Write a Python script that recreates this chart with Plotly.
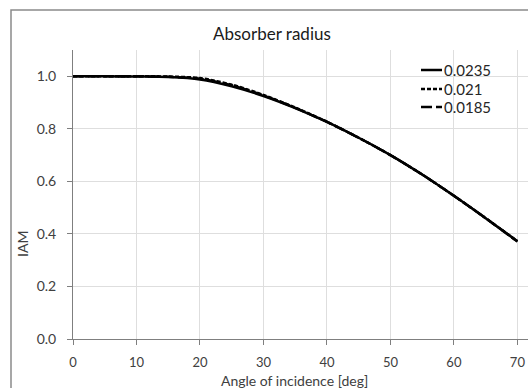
import plotly.graph_objects as go

# ---- data ----
angle = [0, 5, 10, 15, 20, 25, 30, 35, 40, 45, 50, 55, 60, 65, 70]
iam_0235 = [1.000, 1.000, 0.999, 0.997, 0.988, 0.962, 0.925, 0.879, 0.826, 0.766, 0.700, 0.626, 0.545, 0.460, 0.372]
iam_021 = [1.000, 1.000, 1.000, 0.999, 0.993, 0.968, 0.929, 0.881, 0.827, 0.766, 0.700, 0.626, 0.545, 0.460, 0.372]
iam_0185 = [1.000, 1.000, 1.000, 0.998, 0.991, 0.966, 0.927, 0.880, 0.826, 0.766, 0.700, 0.626, 0.545, 0.460, 0.371]
series_names = ["0.0235", "0.021", "0.0185"]
series_values = [iam_0235, iam_021, iam_0185]
x_ticks = [0, 10, 20, 30, 40, 50, 60, 70]
y_ticks = [0.0, 0.2, 0.4, 0.6, 0.8, 1.0]

dashes = ["solid", "4px,2px", "11px,4px"]

W, H = 528, 388
ML, MT, MR, MB = 73, 50, 0, 49
PW = W - ML - MR
PH = H - MT - MB

def px(xp):
    return (xp - ML) / PW

def py(yp):
    return (H - MB - yp) / PH

FONT = "Lato"

fig = go.Figure()
for name, vals, d in zip(series_names, series_values, dashes):
    fig.add_trace(go.Scatter(
        x=angle, y=vals, mode="lines", name=name,
        line=dict(color="#000000", width=2.5, dash=d, shape="spline", smoothing=0.8),
        showlegend=False,
    ))

# manual legend
leg_y = [70, 89, 107]
for name, d, ly in zip(series_names, dashes, leg_y):
    fig.add_shape(type="line", xref="paper", yref="paper",
                  x0=px(421), x1=px(442), y0=py(ly), y1=py(ly),
                  line=dict(color="#000000", width=2.5, dash=d))
    fig.add_annotation(text=name, xref="paper", yref="paper", x=px(442), y=py(ly),
                       xanchor="left", yanchor="middle", showarrow=False,
                       font=dict(family=FONT, size=15, color="#262626"))

# outer chart border
fig.add_shape(type="rect", xref="paper", yref="paper",
              x0=px(11), x1=px(540), y0=py(10), y1=py(400),
              line=dict(color="#8a8a8a", width=1.5), layer="below")

# title
fig.add_annotation(text="Absorber radius", xref="paper", yref="paper",
                   x=px(272), y=py(33), xanchor="center", yanchor="middle",
                   showarrow=False, font=dict(family=FONT, size=17, color="#1a1a1a"))
# axis titles
fig.add_annotation(text="Angle of incidence [deg]", xref="paper", yref="paper",
                   x=px(294), y=py(380), xanchor="center", yanchor="middle",
                   showarrow=False, font=dict(family=FONT, size=14, color="#404040"))
fig.add_annotation(text="IAM", xref="paper", yref="paper",
                   x=px(22), y=py(244), xanchor="center", yanchor="middle", textangle=-90,
                   showarrow=False, font=dict(family=FONT, size=14, color="#404040"))

axis_common = dict(
    showgrid=True, gridcolor="#dedede", gridwidth=1,
    showline=True, linecolor="#7f7f7f", linewidth=1,
    ticks="outside", ticklen=5, tickcolor="#7f7f7f",
    zeroline=False, fixedrange=True,
)

fig.update_xaxes(range=[0, 70 * PW / (517.7 - 73.3)], tickvals=x_ticks,
                 ticktext=[str(v) for v in x_ticks], ticklabelstandoff=6,
                 tickfont=dict(family=FONT, size=13, color="#404040"), **axis_common)
fig.update_yaxes(range=[0, 1.1], tickvals=y_ticks,
                 ticktext=[f"{v:.1f}" for v in y_ticks], ticklabelstandoff=8,
                 tickfont=dict(family=FONT, size=14, color="#404040"), **axis_common)

fig.update_layout(
    width=W, height=H,
    margin=dict(l=ML, r=MR, t=MT, b=MB, pad=0),
    paper_bgcolor="white", plot_bgcolor="white",
    font=dict(family=FONT),
    showlegend=False,
)

fig.write_html("out.html")
